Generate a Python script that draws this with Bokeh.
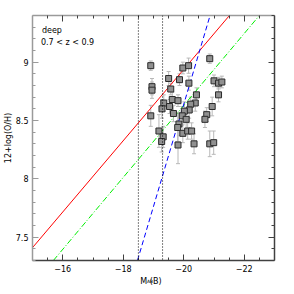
import math
from bokeh.plotting import figure
from bokeh.models import (Range1d, LinearAxis, FixedTicker, Label, Span,
                          ColumnDataSource, Whisker, TeeHead, CustomLabelingPolicy)
from bokeh.embed import file_html
from bokeh.resources import INLINE

# ---- data ----
mag = [-18.91, -18.95, -18.95, -18.91, -20.86, -19.97, -20.16, -19.50, -19.86, -20.17,
       -19.57, -21.00, -21.15, -21.26, -21.15, -20.42, -19.62, -19.81, -20.38, -20.23,
       -19.34, -19.28, -19.53, -20.94, -20.18, -20.02, -19.66, -20.76, -20.70, -19.95,
       -20.08, -19.84, -19.80, -19.18, -19.97, -20.13, -20.26, -19.32, -19.27, -20.34,
       -20.86, -20.99, -19.81]
oh = [8.97, 8.79, 8.76, 8.54, 9.03, 8.95, 8.97, 8.86, 8.85, 8.82,
      8.77, 8.84, 8.82, 8.83, 8.72, 8.72, 8.68, 8.67, 8.65, 8.64,
      8.65, 8.60, 8.62, 8.62, 8.59, 8.58, 8.56, 8.55, 8.51, 8.54,
      8.51, 8.47, 8.44, 8.41, 8.39, 8.41, 8.41, 8.36, 8.32, 8.30,
      8.30, 8.31, 8.29]
oh_err = [0.04, 0.07, 0.07, 0.09, 0.04, 0.05, 0.065, 0.06, 0.05, 0.06,
          0.05, 0.05, 0.05, 0.05, 0.06, 0.06, 0.06, 0.05, 0.07, 0.06,
          0.07, 0.08, 0.06, 0.08, 0.07, 0.08, 0.07, 0.06, 0.07, 0.08,
          0.09, 0.10, 0.12, 0.14, 0.08, 0.07, 0.07, 0.09, 0.09, 0.085,
          0.11, 0.10, 0.16]

red_x = [-15.0, -21.51]
red_y = [7.41, 9.40]
green_x = [-15.69, -22.50]
green_y = [7.30, 9.40]
blue_x = [-18.47, -20.87]
blue_y = [7.30, 9.40]
mag_limits = [-18.5, -19.3]

x_major = [-16, -18, -20, -22]
x_minor = [-15.5, -16.5, -17, -17.5, -18.5, -19, -19.5, -20.5, -21, -21.5, -22.5]
y_major = [7.5, 8, 8.5, 9]
y_minor = [round(7.3 + 0.1 * i, 1) for i in range(22)]
x_labels = {v: "\u2212" + str(abs(v)) for v in x_major}
y_labels = {7.5: "7.5", 8: "8", 8.5: "8.5", 9: "9"}

FONT = "DejaVu Sans"
LIGHT = "#9a9a9a"
DARK = "#404040"

p = figure(width=290, height=293, output_backend="svg", toolbar_location=None,
           x_range=Range1d(-15, -23), y_range=Range1d(7.3, 9.4),
           min_border_left=32, min_border_right=11, min_border_top=15, min_border_bottom=24)
p.outline_line_color = None
p.grid.visible = False
p.background_fill_color = "white"
p.border_fill_color = "white"

hide_all = CustomLabelingPolicy(code="""
const a = Array.from(indices)
for (const i of a) indices.unset(i)
return indices
""")


def style_axis(ax, color, tick_color, ticks, minor):
    ax.ticker = FixedTicker(ticks=ticks, minor_ticks=minor)
    ax.axis_line_color = color
    ax.axis_line_width = 1.5
    ax.major_tick_line_color = tick_color
    ax.minor_tick_line_color = tick_color
    ax.major_tick_in = 6
    ax.major_tick_out = 0
    ax.minor_tick_in = 3
    ax.minor_tick_out = 0
    ax.major_label_text_font = FONT
    ax.major_label_text_font_size = "8px"
    ax.major_label_text_color = "black"


bottom = p.xaxis[0]
style_axis(bottom, DARK, DARK, x_major, x_minor)
bottom.major_label_overrides = x_labels
bottom.major_label_standoff = 4
bottom.axis_label = "M   (B)"
bottom.axis_label_text_font = FONT
bottom.axis_label_text_font_style = "normal"
bottom.axis_label_text_font_size = "8px"
bottom.axis_label_text_color = "black"
bottom.axis_label_standoff = 2

left = p.yaxis[0]
style_axis(left, LIGHT, LIGHT, y_major, y_minor)
left.major_label_overrides = y_labels
left.major_label_standoff = 4
left.axis_label = "12+log(O/H)"
left.axis_label_text_font = FONT
left.axis_label_text_font_style = "normal"
left.axis_label_text_font_size = "8px"
left.axis_label_text_color = "black"
left.axis_label_standoff = 0

top = LinearAxis(major_label_policy=hide_all, major_label_standoff=0)
style_axis(top, LIGHT, DARK, x_major, x_minor)
p.add_layout(top, "above")

right = LinearAxis(major_label_policy=hide_all, major_label_standoff=0)
style_axis(right, DARK, DARK, y_major, y_minor)
p.add_layout(right, "right")

# vertical magnitude limits
for m in mag_limits:
    p.add_layout(Span(location=m, dimension="height", line_color="black",
                      line_width=1, line_dash="1 2"))

# relations
p.line(red_x, red_y, line_color="#ff0000", line_width=1)
p.line(green_x, green_y, line_color="#00ee00", line_width=1, line_dash="6 2 1 2")
p.line(blue_x, blue_y, line_color="#0000ff", line_width=1, line_dash="5 3")

# data with error bars
src = ColumnDataSource(dict(
    x=mag, y=oh,
    lo=[a - e for a, e in zip(oh, oh_err)],
    hi=[a + e for a, e in zip(oh, oh_err)]))
p.add_layout(Whisker(base="x", lower="lo", upper="hi", source=src,
                     line_color="#b8b8b8", line_width=1,
                     upper_head=TeeHead(size=4, line_color="#b8b8b8", line_width=1),
                     lower_head=TeeHead(size=4, line_color="#b8b8b8", line_width=1)))
p.scatter("x", "y", source=src, marker="square", size=6,
          fill_color="#909090", line_color="#2a2a2a", line_width=1)

# texts
p.add_layout(Label(x=-15.31, y=9.23, text="deep", text_font=FONT,
                   text_font_size="8px", text_color="black"))
p.add_layout(Label(x=-15.28, y=9.128, text="0.7 < z < 0.9", text_font=FONT,
                   text_font_size="8px", text_color="black"))

# subscript of the x-axis title, in a thin panel below the axis
p.add_layout(Label(x=114.5, y=12, x_units="screen", y_units="screen", text="AB",
                   text_font=FONT, text_font_size="4.5px", text_color="black",
                   text_baseline="alphabetic"), "below")

open("out.html", "w").write(file_html(p, INLINE))
